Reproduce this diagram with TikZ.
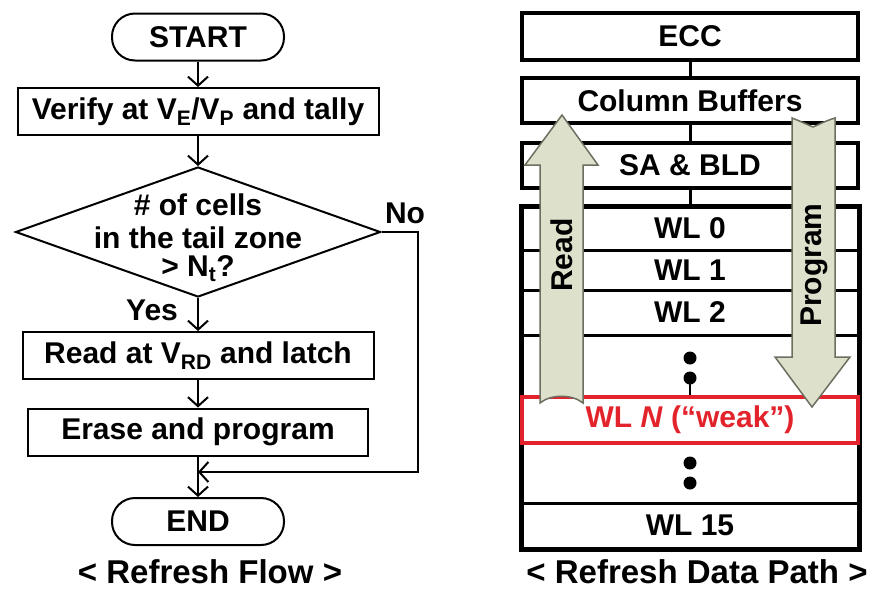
\documentclass[tikz,border=0pt]{standalone}
\usepackage{fontspec}
\setmainfont{Liberation Sans}
\usetikzlibrary{arrows.meta,shapes.geometric}
\definecolor{weakred}{HTML}{E3232B}
\definecolor{arrfill}{HTML}{DDE0CB}
\definecolor{arrline}{HTML}{6E6E60}
\tikzset{
  txt/.style={font=\bfseries\fontsize{30}{33}\selectfont, inner sep=0pt},
  term/.style={txt, draw, line width=2pt, rounded corners=23pt, minimum width=172pt, minimum height=47pt},
  proc/.style={txt, draw, line width=2pt, minimum height=47pt},
  flow/.style={line width=2pt, -{Straight Barb[length=9pt,width=20pt,line width=2pt]}},
  rbox/.style={txt, draw, line width=4pt, minimum width=336pt},
  rowbox/.style={txt, draw, line width=3pt, minimum width=336pt},
  link/.style={line width=3pt},
  blockarrow/.style={fill=arrfill, draw=arrline, line width=1.5pt, line join=miter},
  caption/.style={font=\bfseries\fontsize{33}{36}\selectfont, inner sep=0pt},
  dot/.style={circle, fill=black, minimum size=13pt, inner sep=0pt}
}
\begin{document}
\begin{tikzpicture}[x=1pt,y=-1pt]
\useasboundingbox (0,0) rectangle (883,592);
\fill[white] (0,0) rectangle (883,592);
% ---------- Refresh Flow ----------
\node[term] (start) at (198,37) {START};
\node[proc, minimum width=361pt] (verify) at (198,111.5) {Verify at V\textsubscript{E}/V\textsubscript{P} and tally};
\node[diamond, draw, line width=2pt, minimum width=365pt, minimum height=130pt, inner sep=0pt] (dec) at (198,232) {};
\node[txt, align=center] (dectext) at (198,238) {\# of cells\\in the tail zone\\[-5pt]> N\textsubscript{t}?};
\node[proc, minimum width=351pt] (read) at (198,355.5) {Read at V\textsubscript{RD} and latch};
\node[proc, minimum width=340pt] (erase) at (198,432) {Erase and program};
\node[term] (end) at (198,521.5) {END};
\node[txt] (yes) at (152,310) {Yes};
\node[txt] (no) at (405,213) {No};
\coordinate (nocorner) at (418,232);
\coordinate (nocorner2) at (418,472);
\coordinate (join) at (198,472);
\draw[flow] (start) -- (verify);
\draw[flow] (verify) -- (dec);
\draw[flow] (dec) -- (read);
\draw[flow] (read) -- (erase);
\draw[flow] (erase) -- (end);
\draw[flow] (dec.east) -- (nocorner) -- (nocorner2) -- (join);
\node[caption] (cap1) at (210,572) {< Refresh Flow >};
% ---------- Refresh Data Path ----------
\node[rbox, minimum height=47pt] (ecc) at (690,36.5) {ECC};
\node[rbox, minimum height=45pt] (cb) at (690,100.5) {Column Buffers};
\node[rbox, minimum height=45pt] (sa) at (690,165.5) {SA \& BLD};
\node[rowbox, minimum height=43pt] (wl0) at (690,228.5) {WL 0};
\node[rowbox, minimum height=40pt] (wl1) at (690,270) {WL 1};
\node[rowbox, minimum height=45pt] (wl2) at (690,312.5) {WL 2};
\node[rowbox, minimum height=62pt] (gap1) at (690,366) {};
\node[rowbox, minimum height=60pt] (gap2) at (690,473) {};
\node[rowbox, minimum height=45pt] (wl15) at (690,525.5) {WL 15};
\draw[line width=4pt] (wl0.north west) rectangle (wl15.south east);
\draw[link] (ecc) -- (cb);
\draw[link] (cb) -- (sa);
\draw[link] (sa) -- (wl0);
\node[dot] (d1) at (690,358) {};
\node[dot] (d2) at (690,378) {};
\node[dot] (d3) at (690,463) {};
\node[dot] (d4) at (690,483) {};
\node[txt, draw=weakred, line width=4pt, text=weakred, fill=white, minimum width=336pt, minimum height=46pt] (weak) at (690,420) {WL \textit{N} (“weak”)};
\draw[line width=1.5pt] (d2.center) -- (weak.north);
% block arrows
\draw[blockarrow] (540,403) -- (540,165) -- (525,165) -- (562,115) -- (598,165) -- (583,165) -- (583,403)
   .. controls (572,394) and (551,394) .. (540,403) -- cycle;
\node[txt, rotate=90] (readlbl) at (562,255) {Read};
\draw[blockarrow] (792,118) -- (792,357) -- (775,357) -- (812,407) -- (850,357) -- (835,357) -- (835,118)
   .. controls (825,121) and (818,125) .. (813,127) .. controls (808,125) and (800,121) .. (792,118) -- cycle;
\node[txt, rotate=90] (proglbl) at (814,265) {Program};
\node[caption] (cap2) at (697,572) {< Refresh Data Path >};
\end{tikzpicture}
\end{document}
